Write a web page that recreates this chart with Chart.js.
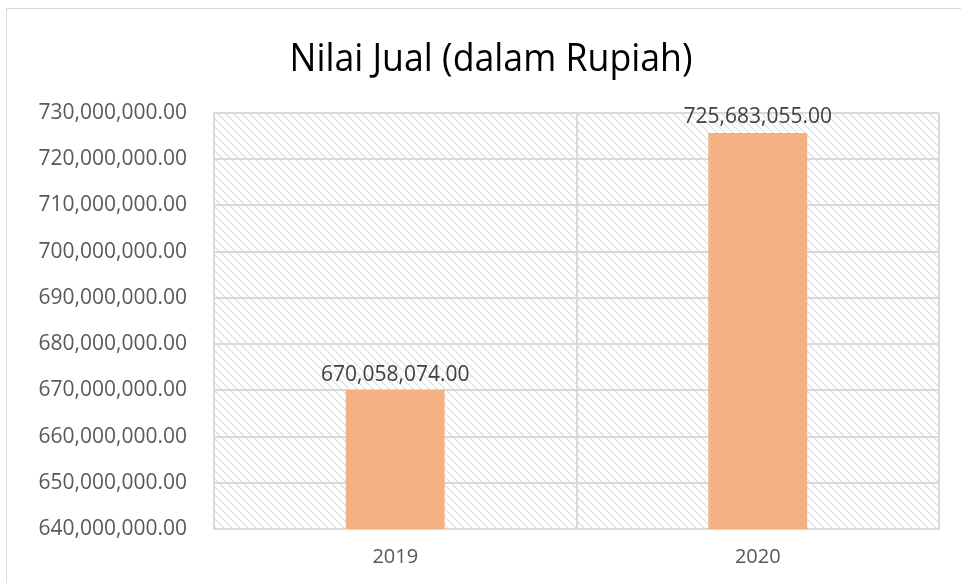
<!DOCTYPE html>
<html>
<head>
<meta charset="utf-8">
<script src="https://cdn.jsdelivr.net/npm/chart.js@4.4.0/dist/chart.umd.min.js"></script>
<style>
  html, body { margin: 0; padding: 0; background: #fff; }
  #wrap { width: 961px; height: 583px; position: relative; }
</style>
</head>
<body>
<div id="wrap"><canvas id="myChart" width="961" height="583"></canvas></div>
<script>
const years = ['2019', '2020']
const nilaiJual = [670058074, 725683055]
const yMin = 640000000
const yMax = 730000000
const yStep = 10000000

const fontName = '"Open Sans", sans-serif'

function fmt(v) {
  return v.toLocaleString('en-US', { minimumFractionDigits: 2, maximumFractionDigits: 2 })
}

// hatch tile for the plot area
function makeHatch(ctx) {
  const tile = document.createElement('canvas')
  tile.width = 8
  tile.height = 8
  const t = tile.getContext('2d')
  t.strokeStyle = '#dcdcdc'
  t.lineWidth = 1.1
  t.beginPath()
  t.moveTo(0, 0); t.lineTo(8, 8)
  t.moveTo(-4, 4); t.lineTo(4, 12)
  t.moveTo(4, -4); t.lineTo(12, 4)
  t.stroke()
  return ctx.createPattern(tile, 'repeat')
}

const decor = {
  id: 'decor',
  beforeDraw(chart) {
    const { ctx, chartArea: a } = chart
    ctx.save()
    ctx.fillStyle = '#fff'
    ctx.fillRect(0, 0, chart.width, chart.height)
    // outer frame
    ctx.strokeStyle = '#d9d9d9'
    ctx.lineWidth = 1
    ctx.strokeRect(6.5, 8.5, chart.width, chart.height)
    // hatch
    ctx.fillStyle = makeHatch(ctx)
    ctx.fillRect(a.left, a.top, a.right - a.left, a.bottom - a.top)
    // title, squeezed a little to look like the original
    const title = 'Nilai Jual (dalam Rupiah)'
    ctx.fillStyle = '#000'
    ctx.font = '39px ' + fontName
    ctx.textAlign = 'center'
    ctx.textBaseline = 'alphabetic'
    const w = ctx.measureText(title).width
    const sx = 403 / w
    ctx.translate(491, 71)
    ctx.scale(sx, 1)
    ctx.fillText(title, 0, 0)
    ctx.restore()
  },
  afterDatasetsDraw(chart) {
    const { ctx } = chart
    const meta = chart.getDatasetMeta(0)
    ctx.save()
    ctx.fillStyle = '#404040'
    ctx.font = '21px ' + fontName
    ctx.textAlign = 'center'
    ctx.textBaseline = 'bottom'
    meta.data.forEach((bar, i) => {
      ctx.fillText(fmt(nilaiJual[i]), bar.x, bar.y - 5)
    })
    ctx.restore()
  }
}

var ctx = document.getElementById('myChart').getContext('2d')
var myChart = new Chart(ctx, {
  type: 'bar',
  data: {
    labels: years,
    datasets: [{
      data: nilaiJual,
      backgroundColor: '#f4b183',
      barPercentage: 0.273,
      categoryPercentage: 1,
    }],
  },
  options: {
    responsive: false,
    animation: false,
    devicePixelRatio: 1,
    layout: { padding: { top: 113, left: 0, right: 22, bottom: 0 } },
    plugins: {
      legend: { display: false },
      tooltip: { enabled: false },
    },
    scales: {
      x: {
        grid: { color: '#d9d9d9', lineWidth: 2, offset: true, drawTicks: false },
        border: { color: '#d9d9d9', width: 2 },
        ticks: { color: '#595959', font: { family: fontName, size: 20 }, padding: 16 },
        afterFit(scale) { scale.height = 54 },
      },
      y: {
        min: yMin,
        max: yMax,
        grid: { color: '#d9d9d9', lineWidth: 2, drawTicks: false },
        border: { color: '#d9d9d9', width: 2 },
        ticks: {
          stepSize: yStep,
          color: '#595959',
          font: { family: fontName, size: 21 },
          padding: 27,
          callback: (v) => fmt(v),
        },
        afterFit(scale) { scale.width = 214 },
      },
    },
  },
  plugins: [decor],
})
</script>
</body>
</html>
